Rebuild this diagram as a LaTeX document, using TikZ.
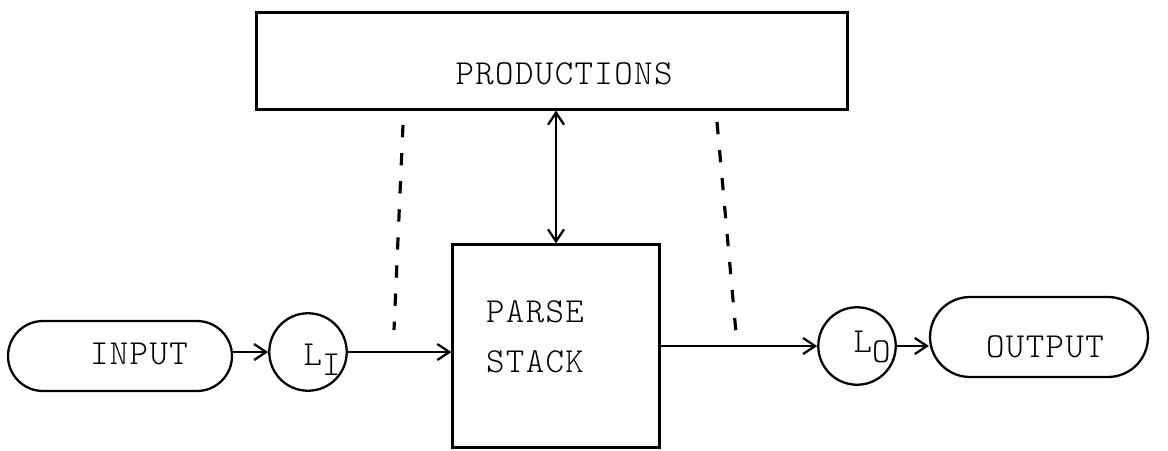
\documentclass[tikz,border=0pt]{standalone}
\usepackage{fontspec}
\usetikzlibrary{arrows.meta}

\newfontfamily\typewr{Latin Modern Mono Light}[LetterSpace=4]
\newcommand{\lowidx}[1]{\raisebox{-0.65ex}{#1}}

\begin{document}
\begin{tikzpicture}[x=0.02cm, y=-0.02cm, line width=1.3pt,
  >={Straight Barb[length=2.4mm, width=3.2mm]},
  every node/.style={font=\fontsize{20}{28.5}\selectfont\typewr},
  box/.style={draw, rectangle, inner sep=0pt},
  pill/.style={draw, rectangle, inner sep=0pt},
  ring/.style={draw, circle, inner sep=0pt, minimum size=1.55cm},
  hint/.style={line width=1.8pt, dash pattern=on 7pt off 9pt}]
  \useasboundingbox (0,0) rectangle (1168,450);

  % the boxes
  \node[box, minimum width=11.82cm, minimum height=1.94cm] (prod) at (552,61) {};
  \node[box, minimum width=4.14cm, minimum height=4.06cm] (stack) at (556,346) {};

  % input and output with round ends
  \node[pill, rounded corners=0.7cm, minimum width=4.48cm, minimum height=1.40cm] (input) at (120,356) {};
  \node[pill, rounded corners=0.8cm, minimum width=4.36cm, minimum height=1.60cm] (output) at (1039,337) {};

  % the two small circles
  \node[ring] (li) at (308,352) {};
  \node[ring] (lo) at (857,346) {};

  % texts
  \node (prodtxt) at (564,74) {PRODUCTIONS};
  \node[align=left] (stacktxt) at (535,337) {PARSE\\STACK};
  \node (inputtxt) at (139,354) {INPUT};
  \node (outputtxt) at (1045,347) {OUTPUT};
  \node (litxt) at (322,360) {L\lowidx{I}};
  \node (lotxt) at (872,347) {L\lowidx{O}};

  % solid connectors
  \draw[->] (input.east |- li) -- (li);
  \draw[->] (li) -- (li -| stack.west);
  \draw[->] (stack.east |- lo) -- (lo);
  \draw[->] (lo) -- (lo -| output.west);
  \draw[<->] (stack.north |- prod.south) -- (stack.north);

  % dashed hints
  \coordinate (hintLtop) at (403,125);
  \coordinate (hintLbot) at (394,330);
  \coordinate (hintRtop) at (717,122);
  \coordinate (hintRbot) at (736,333);
  \draw[hint] (hintLtop) -- (hintLbot);
  \draw[hint] (hintRtop) -- (hintRbot);
\end{tikzpicture}
\end{document}
